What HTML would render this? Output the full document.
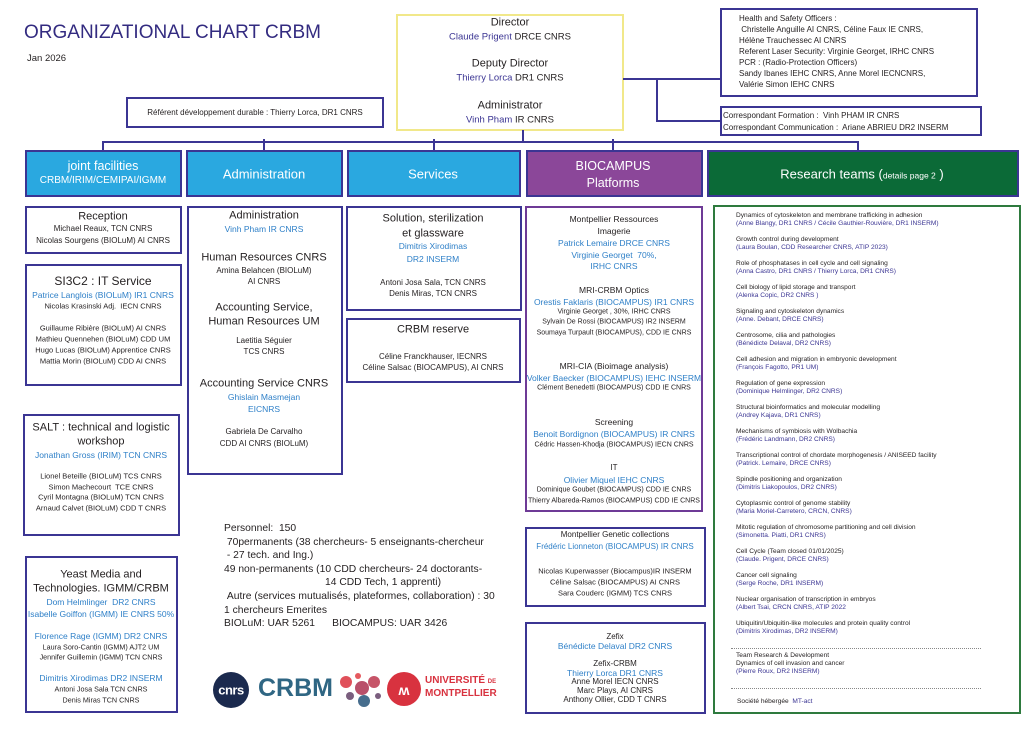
<!DOCTYPE html>
<html><head><meta charset="utf-8">
<style>
html,body{margin:0;padding:0;background:#fff;}
body{width:1030px;height:731px;position:relative;overflow:hidden;font-family:"Liberation Sans",sans-serif;color:#231f20;}
.b{position:absolute;box-sizing:border-box;border:2px solid #3b3593;background:#fff;}
.h{position:absolute;box-sizing:border-box;border:2px solid #3b3593;color:#fff;text-align:center;}
.t{position:absolute;white-space:nowrap;transform:translate(-50%,-50%);line-height:1;}
.l{position:absolute;white-space:nowrap;line-height:1;}
.bl{color:#2f80c8;}
.pu{color:#3b3593;}
.ln{position:absolute;background:#3b3593;}
.s8{font-size:8px}.s9{font-size:9px}.s11{font-size:11.5px}
.rt{position:absolute;left:736px;font-size:6.6px;line-height:8px;white-space:nowrap;}
.rt span{color:#3b3593;}
</style></head><body>

<div class="l" style="left:24px;top:23px;font-size:19px;color:#332b80;">ORGANIZATIONAL CHART CRBM</div>
<div class="l" style="left:27px;top:54px;font-size:9.5px;">Jan 2026</div>

<!-- director -->
<div class="b" style="left:396px;top:14px;width:228px;height:117px;border-color:#f1e88a;border-width:2.5px;"></div>
<div class="t" style="left:510px;top:23px;font-size:11px;">Director</div>
<div class="t" style="left:510px;top:37px;font-size:9.5px;"><span class="pu">Claude Prigent</span> DRCE CNRS</div>
<div class="t" style="left:510px;top:64px;font-size:11px;">Deputy Director</div>
<div class="t" style="left:510px;top:78px;font-size:9.5px;"><span class="pu">Thierry Lorca</span> DR1 CNRS</div>
<div class="t" style="left:510px;top:106px;font-size:11px;">Administrator</div>
<div class="t" style="left:510px;top:120px;font-size:9.5px;"><span class="pu">Vinh Pham</span> IR CNRS</div>

<div class="b" style="left:126px;top:97px;width:258px;height:31px;"></div>
<div class="t" style="left:255px;top:113px;font-size:8px;">Référent développement durable : Thierry Lorca, DR1 CNRS</div>

<div class="b" style="left:720px;top:8px;width:258px;height:89px;"></div>
<div class="l" style="left:739px;top:13px;font-size:8px;line-height:11px;">Health and Safety Officers :<br>&nbsp;Christelle Anguille AI CNRS, Céline Faux IE CNRS,<br>Hélène Trauchessec AI CNRS<br>Referent Laser Security: Virginie Georget, IRHC CNRS<br>PCR : (Radio-Protection Officers)<br>Sandy Ibanes IEHC CNRS, Anne Morel IECNCNRS,<br>Valérie Simon IEHC CNRS</div>
<div class="b" style="left:720px;top:106px;width:262px;height:30px;"></div>
<div class="l" style="left:723px;top:110px;font-size:8px;line-height:12px;">Correspondant Formation&nbsp;:&nbsp; Vinh PHAM IR CNRS<br>Correspondant Communication :&nbsp; Ariane ABRIEU DR2 INSERM</div>

<!-- lines -->
<div class="ln" style="left:623px;top:78px;width:97px;height:2px;"></div>
<div class="ln" style="left:656px;top:78px;width:2px;height:43px;"></div>
<div class="ln" style="left:656px;top:120px;width:64px;height:2px;"></div>
<div class="ln" style="left:522px;top:130px;width:2px;height:12px;"></div>
<div class="ln" style="left:102px;top:141px;width:757px;height:2px;"></div>
<div class="ln" style="left:102px;top:141px;width:2px;height:10px;"></div>
<div class="ln" style="left:263px;top:139px;width:2px;height:12px;"></div>
<div class="ln" style="left:433px;top:139px;width:2px;height:12px;"></div>
<div class="ln" style="left:612px;top:139px;width:2px;height:12px;"></div>
<div class="ln" style="left:857px;top:141px;width:2px;height:10px;"></div>

<!-- headers -->
<div class="h" style="left:25px;top:150px;width:157px;height:47px;background:#2aa8e0;"></div>
<div class="t" style="left:103px;top:166px;font-size:12.5px;color:#fff;">joint facilities</div>
<div class="t" style="left:103px;top:181px;font-size:10px;color:#fff;">CRBM/IRIM/CEMIPAI/IGMM</div>
<div class="h" style="left:186px;top:150px;width:157px;height:47px;background:#2aa8e0;"></div>
<div class="t" style="left:264px;top:174px;font-size:13px;color:#fff;">Administration</div>
<div class="h" style="left:347px;top:150px;width:174px;height:47px;background:#2aa8e0;"></div>
<div class="t" style="left:433px;top:174px;font-size:13px;color:#fff;">Services</div>
<div class="h" style="left:526px;top:150px;width:177px;height:47px;background:#8b4799;"></div>
<div class="t" style="left:613px;top:166px;font-size:12.5px;color:#fff;">BIOCAMPUS</div>
<div class="t" style="left:613px;top:183px;font-size:12.5px;color:#fff;">Platforms</div>
<div class="h" style="left:707px;top:150px;width:312px;height:47px;background:#0b6a37;"></div>
<div class="t" style="left:862px;top:174px;font-size:13px;color:#fff;">Research teams (<span style="font-size:8.5px">details page 2</span> )</div>

<!-- Reception -->
<div class="b" style="left:25px;top:206px;width:157px;height:48px;"></div>
<div class="t s11" style="left:103px;top:217px;font-size:11px;">Reception</div>
<div class="t s8" style="left:103px;top:229px;">Michael Reaux, TCN CNRS</div>
<div class="t s8" style="left:103px;top:241px;">Nicolas Sourgens (BIOLuM) AI CNRS</div>

<!-- SI3C2 -->
<div class="b" style="left:25px;top:264px;width:157px;height:122px;"></div>
<div class="t" style="left:103px;top:281px;font-size:12px;">SI3C2 : IT Service</div>
<div class="t s8 bl" style="left:103px;top:295px;font-size:8.5px;">Patrice Langlois (BIOLuM) IR1 CNRS</div>
<div class="t s8" style="left:103px;top:306px;font-size:7.5px;">Nicolas Krasinski Adj.&nbsp; IECN CNRS</div>
<div class="t s8" style="left:103px;top:328px;font-size:7.5px;">Guillaume Ribière (BIOLuM) AI CNRS</div>
<div class="t s8" style="left:103px;top:339px;font-size:7.5px;">Mathieu Quennehen (BIOLuM) CDD UM</div>
<div class="t s8" style="left:103px;top:350px;font-size:7.5px;">Hugo Lucas (BIOLuM) Apprentice CNRS</div>
<div class="t s8" style="left:103px;top:361px;font-size:7.5px;">Mattia Morin (BIOLuM) CDD AI CNRS</div>

<!-- SALT -->
<div class="b" style="left:23px;top:414px;width:157px;height:122px;"></div>
<div class="t" style="left:101px;top:428px;font-size:11px;">SALT : technical and logistic</div>
<div class="t" style="left:101px;top:442px;font-size:11px;">workshop</div>
<div class="t bl" style="left:101px;top:455px;font-size:8.5px;">Jonathan Gross (IRIM) TCN CNRS</div>
<div class="t" style="left:101px;top:476px;font-size:7.5px;">Lionel Beteille (BIOLuM) TCS CNRS</div>
<div class="t" style="left:101px;top:487px;font-size:7.5px;">Simon Machecourt&nbsp; TCE CNRS</div>
<div class="t" style="left:101px;top:497px;font-size:7.5px;">Cyril Montagna (BIOLuM) TCN CNRS</div>
<div class="t" style="left:101px;top:508px;font-size:7.5px;">Arnaud Calvet (BIOLuM) CDD T CNRS</div>

<!-- Yeast -->
<div class="b" style="left:25px;top:556px;width:153px;height:157px;"></div>
<div class="t" style="left:101px;top:575px;font-size:11px;">Yeast Media and</div>
<div class="t" style="left:101px;top:589px;font-size:11px;">Technologies. IGMM/CRBM</div>
<div class="t bl" style="left:101px;top:602px;font-size:8.5px;">Dom Helmlinger&nbsp; DR2 CNRS</div>
<div class="t bl" style="left:101px;top:614px;font-size:8.5px;">Isabelle Goiffon (IGMM) IE CNRS 50%</div>
<div class="t bl" style="left:101px;top:636px;font-size:8.5px;">Florence Rage (IGMM) DR2 CNRS</div>
<div class="t" style="left:101px;top:647px;font-size:7.2px;">Laura Soro-Cantin (IGMM) AJT2 UM</div>
<div class="t" style="left:101px;top:657px;font-size:7.2px;">Jennifer Guillemin (IGMM) TCN CNRS</div>
<div class="t bl" style="left:101px;top:678px;font-size:8.5px;">Dimitris Xirodimas DR2 INSERM</div>
<div class="t" style="left:101px;top:689px;font-size:7.2px;">Antoni Josa Sala TCN CNRS</div>
<div class="t" style="left:101px;top:700px;font-size:7.2px;">Denis Miras TCN CNRS</div>

<!-- Admin -->
<div class="b" style="left:187px;top:206px;width:156px;height:269px;"></div>
<div class="t" style="left:264px;top:216px;font-size:11px;">Administration</div>
<div class="t bl" style="left:264px;top:229px;font-size:8.5px;">Vinh Pham IR CNRS</div>
<div class="t" style="left:264px;top:258px;font-size:11px;">Human Resources CNRS</div>
<div class="t" style="left:264px;top:271px;font-size:8px;">Amina Belahcen (BIOLuM)</div>
<div class="t" style="left:264px;top:282px;font-size:8px;">AI CNRS</div>
<div class="t" style="left:264px;top:308px;font-size:11px;">Accounting Service,</div>
<div class="t" style="left:264px;top:322px;font-size:11px;">Human Resources UM</div>
<div class="t" style="left:264px;top:341px;font-size:8px;">Laetitia Séguier</div>
<div class="t" style="left:264px;top:352px;font-size:8px;">TCS CNRS</div>
<div class="t" style="left:264px;top:384px;font-size:11px;">Accounting Service CNRS</div>
<div class="t bl" style="left:264px;top:397px;font-size:8.5px;">Ghislain Masmejan</div>
<div class="t bl" style="left:264px;top:409px;font-size:8.5px;">EICNRS</div>
<div class="t" style="left:264px;top:432px;font-size:8px;">Gabriela De Carvalho</div>
<div class="t" style="left:264px;top:444px;font-size:8px;">CDD AI CNRS (BIOLuM)</div>

<!-- Services -->
<div class="b" style="left:346px;top:206px;width:176px;height:105px;"></div>
<div class="t" style="left:433px;top:219px;font-size:11px;">Solution, sterilization</div>
<div class="t" style="left:433px;top:234px;font-size:11px;">et glassware</div>
<div class="t bl" style="left:433px;top:246px;font-size:8.5px;">Dimitris Xirodimas</div>
<div class="t bl" style="left:433px;top:259px;font-size:8.5px;">DR2 INSERM</div>
<div class="t" style="left:433px;top:283px;font-size:8px;">Antoni Josa Sala, TCN CNRS</div>
<div class="t" style="left:433px;top:294px;font-size:8px;">Denis Miras, TCN CNRS</div>

<div class="b" style="left:346px;top:318px;width:175px;height:65px;"></div>
<div class="t" style="left:433px;top:330px;font-size:11px;">CRBM reserve</div>
<div class="t" style="left:433px;top:357px;font-size:8px;">Céline Franckhauser, IECNRS</div>
<div class="t" style="left:433px;top:368px;font-size:8px;">Céline Salsac (BIOCAMPUS), AI CNRS</div>

<!-- Biocampus -->
<div class="b" style="left:525px;top:206px;width:178px;height:306px;border-color:#6e3a96;"></div>
<div class="t" style="left:614px;top:219px;font-size:8.5px;">Montpellier Ressources</div>
<div class="t" style="left:614px;top:231px;font-size:8.5px;">Imagerie</div>
<div class="t bl" style="left:614px;top:243px;font-size:8.5px;">Patrick Lemaire DRCE CNRS</div>
<div class="t bl" style="left:614px;top:255px;font-size:8.5px;">Virginie Georget&nbsp; 70%,</div>
<div class="t bl" style="left:614px;top:266px;font-size:8.5px;">IRHC CNRS</div>
<div class="t" style="left:614px;top:290px;font-size:8.5px;">MRI-CRBM Optics</div>
<div class="t bl" style="left:614px;top:302px;font-size:8.5px;">Orestis Faklaris (BIOCAMPUS) IR1 CNRS</div>
<div class="t" style="left:614px;top:312px;font-size:7px;">Virginie Georget , 30%, IRHC CNRS</div>
<div class="t" style="left:614px;top:322px;font-size:7px;">Sylvain De Rossi (BIOCAMPUS) IR2 INSERM</div>
<div class="t" style="left:614px;top:333px;font-size:7px;">Soumaya Turpault (BIOCAMPUS), CDD IE CNRS</div>
<div class="t" style="left:614px;top:366px;font-size:8.5px;">MRI-CIA (Bioimage analysis)</div>
<div class="t bl" style="left:614px;top:378px;font-size:8.5px;">Volker Baecker (BIOCAMPUS) IEHC INSERM</div>
<div class="t" style="left:614px;top:388px;font-size:7px;">Clément Benedetti (BIOCAMPUS) CDD IE CNRS</div>
<div class="t" style="left:614px;top:422px;font-size:8.5px;">Screening</div>
<div class="t bl" style="left:614px;top:434px;font-size:8.5px;">Benoit Bordignon (BIOCAMPUS) IR CNRS</div>
<div class="t" style="left:614px;top:445px;font-size:7px;">Cédric Hassen-Khodja (BIOCAMPUS) IECN CNRS</div>
<div class="t" style="left:614px;top:468px;font-size:8px;">IT</div>
<div class="t bl" style="left:614px;top:480px;font-size:8.5px;">Olivier Miquel IEHC CNRS</div>
<div class="t" style="left:614px;top:490px;font-size:7px;">Dominique Goubet (BIOCAMPUS) CDD IE CNRS</div>
<div class="t" style="left:614px;top:501px;font-size:7px;">Thierry Albareda-Ramos (BIOCAMPUS) CDD IE CNRS</div>

<div class="b" style="left:525px;top:527px;width:181px;height:80px;"></div>
<div class="t" style="left:615px;top:535px;font-size:8px;">Montpellier Genetic collections</div>
<div class="t bl" style="left:615px;top:547px;font-size:8px;">Frédéric Lionneton (BIOCAMPUS) IR CNRS</div>
<div class="t" style="left:615px;top:571px;font-size:7.5px;">Nicolas Kuperwasser (Biocampus)IR INSERM</div>
<div class="t" style="left:615px;top:582px;font-size:7.5px;">Céline Salsac (BIOCAMPUS) AI CNRS</div>
<div class="t" style="left:615px;top:593px;font-size:7.5px;">Sara Couderc (IGMM) TCS CNRS</div>

<div class="b" style="left:525px;top:622px;width:181px;height:92px;"></div>
<div class="t" style="left:615px;top:637px;font-size:8px;">Zefix</div>
<div class="t bl" style="left:615px;top:646px;font-size:8.5px;">Bénédicte Delaval DR2 CNRS</div>
<div class="t" style="left:615px;top:664px;font-size:8px;">Zefix-CRBM</div>
<div class="t bl" style="left:615px;top:673px;font-size:8.5px;">Thierry Lorca DR1 CNRS</div>
<div class="t" style="left:615px;top:682px;font-size:8px;">Anne Morel IECN CNRS</div>
<div class="t" style="left:615px;top:691px;font-size:8px;">Marc Plays, AI CNRS</div>
<div class="t" style="left:615px;top:700px;font-size:8px;">Anthony Ollier, CDD T CNRS</div>

<!-- Research -->
<div class="b" style="left:713px;top:205px;width:308px;height:509px;border-color:#2e7a3e;"></div>
<div class="rt" style="top:212px;">Dynamics of cytoskeleton and membrane trafficking in adhesion<br><span>(Anne Blangy, DR1 CNRS / Cécile Gauthier-Rouvière, DR1 INSERM)</span></div>
<div class="rt" style="top:236px;">Growth control during development<br><span>(Laura Boulan, CDD Researcher CNRS, ATIP 2023)</span></div>
<div class="rt" style="top:260px;">Role of phosphatases in cell cycle and cell signaling<br><span>(Anna Castro, DR1 CNRS / Thierry Lorca, DR1 CNRS)</span></div>
<div class="rt" style="top:284px;">Cell biology of lipid storage and transport<br><span>(Alenka Copic, DR2 CNRS )</span></div>
<div class="rt" style="top:308px;">Signaling and cytoskeleton dynamics<br><span>(Anne. Debant, DRCE CNRS)</span></div>
<div class="rt" style="top:332px;">Centrosome, cilia and pathologies<br><span>(Bénédicte Delaval, DR2 CNRS)</span></div>
<div class="rt" style="top:356px;">Cell adhesion and migration in embryonic development<br><span>(François Fagotto, PR1 UM)</span></div>
<div class="rt" style="top:380px;">Regulation of gene expression<br><span>(Dominique Helmlinger, DR2 CNRS)</span></div>
<div class="rt" style="top:404px;">Structural bioinformatics and molecular modelling<br><span>(Andrey Kajava, DR1 CNRS)</span></div>
<div class="rt" style="top:428px;">Mechanisms of symbiosis with Wolbachia<br><span>(Frédéric Landmann, DR2 CNRS)</span></div>
<div class="rt" style="top:452px;">Transcriptional control of chordate morphogenesis / ANISEED facility<br><span>(Patrick. Lemaire, DRCE CNRS)</span></div>
<div class="rt" style="top:476px;">Spindle positioning and organization<br><span>(Dimitris Liakopoulos, DR2 CNRS)</span></div>
<div class="rt" style="top:500px;">Cytoplasmic control of genome stability<br><span>(Maria Moriel-Carretero, CRCN, CNRS)</span></div>
<div class="rt" style="top:524px;">Mitotic regulation of chromosome partitioning and cell division<br><span>(Simonetta. Piatti, DR1 CNRS)</span></div>
<div class="rt" style="top:548px;">Cell Cycle (Team closed 01/01/2025)<br><span>(Claude. Prigent, DRCE CNRS)</span></div>
<div class="rt" style="top:572px;">Cancer cell signaling<br><span>(Serge Roche, DR1 INSERM)</span></div>
<div class="rt" style="top:596px;">Nuclear organisation of transcription in embryos<br><span>(Albert Tsai, CRCN CNRS, ATIP 2022</span></div>
<div class="rt" style="top:620px;">Ubiquitin/Ubiquitin-like molecules and protein quality control<br><span>(Dimitris Xirodimas, DR2 INSERM)</span></div>
<div style="position:absolute;left:731px;top:648px;width:250px;border-top:1px dotted #888;"></div>
<div class="rt" style="top:652px;">Team Research &amp; Development<br>Dynamics of cell invasion and cancer<br><span>(Pierre Roux, DR2 INSERM)</span></div>
<div style="position:absolute;left:731px;top:688px;width:250px;border-top:1px dotted #888;"></div>
<div class="rt" style="top:698px;left:737px;">Société hébergée&nbsp; <span>MT-act</span></div>

<!-- Personnel -->
<div class="l" style="left:224px;top:522px;font-size:10.3px;line-height:13.6px;">Personnel:&nbsp; 150<br>&nbsp;70permanents (38 chercheurs- 5 enseignants-chercheur<br>&nbsp;- 27 tech. and Ing.)<br>49 non-permanents (10 CDD chercheurs- 24 doctorants-<br><span style="padding-left:101px">14 CDD Tech, 1 apprenti)</span><br>&nbsp;Autre (services mutualisés, plateformes, collaboration) : 30<br>1 chercheurs Emerites<br>BIOLuM: UAR 5261&nbsp;&nbsp;&nbsp;&nbsp;&nbsp; BIOCAMPUS: UAR 3426</div>

<!-- logos -->
<div style="position:absolute;left:213px;top:672px;width:36px;height:36px;border-radius:50%;background:#1b2a4e;"></div>
<div class="t" style="left:231px;top:690px;font-size:13px;color:#fff;font-weight:bold;letter-spacing:-0.5px;">cnrs</div>
<div class="l" style="left:258px;top:676px;font-size:25px;font-weight:bold;color:#2f6683;">CRBM</div>
<svg style="position:absolute;left:334px;top:668px" width="50" height="42">
<circle cx="12" cy="14" r="6" fill="#e0505a"/><circle cx="28" cy="20" r="7" fill="#b9506a"/><circle cx="40" cy="14" r="6" fill="#c65468"/><circle cx="24" cy="8" r="3" fill="#e55a5f"/><circle cx="30" cy="33" r="6" fill="#466d8d"/><circle cx="16" cy="28" r="4" fill="#7a5e7e"/><circle cx="44" cy="28" r="3" fill="#7a5e7e"/>
</svg>
<div style="position:absolute;left:387px;top:672px;width:34px;height:34px;border-radius:50%;background:#d8323f;"></div>
<div class="t" style="left:404px;top:690px;font-size:14px;color:#fff;font-weight:bold;">ʍ</div>
<div class="l" style="left:425px;top:675px;font-size:10px;font-weight:bold;color:#d8323f;line-height:12px;">UNIVERSITÉ <span style="font-size:6px">DE</span><br>MONTPELLIER</div>

</body></html>
